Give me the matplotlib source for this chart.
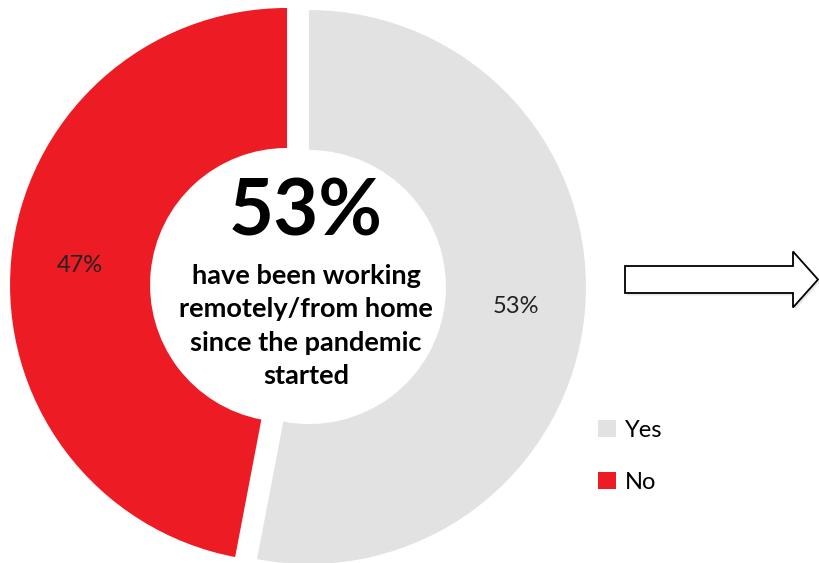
import matplotlib
matplotlib.use("Agg")
import matplotlib.pyplot as plt
from matplotlib.patches import FancyArrow

# --- data ---
labels = ["Yes", "No"]
shares = [53, 47]
colors = ["#E2E2E2", "#ED1C24"]
headline = "53%"
caption = "have been working\nremotely/from home\nsince the pandemic\nstarted"

W, H = 819, 563
plt.rcParams["font.family"] = ["Lato", "DejaVu Sans"]

fig = plt.figure(figsize=(W / 100, H / 100), dpi=100)
ax = fig.add_axes([0, 0, 1, 1])

# donut in pixel units (y measured from the bottom)
cx, cy = 298, H - 286
radius = 277
wedges, _, autotexts = ax.pie(
    shares,
    colors=colors,
    startangle=90,
    counterclock=False,
    center=(cx, cy),
    radius=radius,
    explode=[11, 11],
    autopct=lambda p: f"{p:.0f}%",
    pctdistance=0.75,
    wedgeprops=dict(width=140, linewidth=0),
    textprops=dict(fontsize=17, color="#222222"),
    frame=True,
)
ax.set_xlim(0, W)
ax.set_ylim(0, H)
ax.set_aspect("equal")
ax.axis("off")

# centre text
ax.text(306, H - 213, headline, ha="center", va="center",
        fontsize=56, fontweight="bold", color="black")
ax.text(306, H - 326, caption, ha="center", va="center",
        fontsize=19.5, fontweight="bold", color="black", linespacing=1.48)

# legend
leg = ax.legend(wedges, labels, loc="upper left",
                bbox_to_anchor=(598 / W, 1 - 420 / H),
                frameon=False, fontsize=17, handlelength=0.75,
                handleheight=0.75, handletextpad=0.4, labelspacing=1.3,
                borderpad=0, borderaxespad=0)

# outline arrow with a soft shadow
shadow = FancyArrow(627, H - 282, 193, 0, width=27, head_width=56,
                    head_length=25, length_includes_head=True,
                    facecolor="#bbbbbb", edgecolor="none", alpha=0.35)
ax.add_patch(shadow)
arrow = FancyArrow(625, H - 279.5, 193, 0, width=27, head_width=56,
                   head_length=25, length_includes_head=True,
                   facecolor="white", edgecolor="black", linewidth=1.3)
ax.add_patch(arrow)

fig.savefig("out.png", dpi=100)
